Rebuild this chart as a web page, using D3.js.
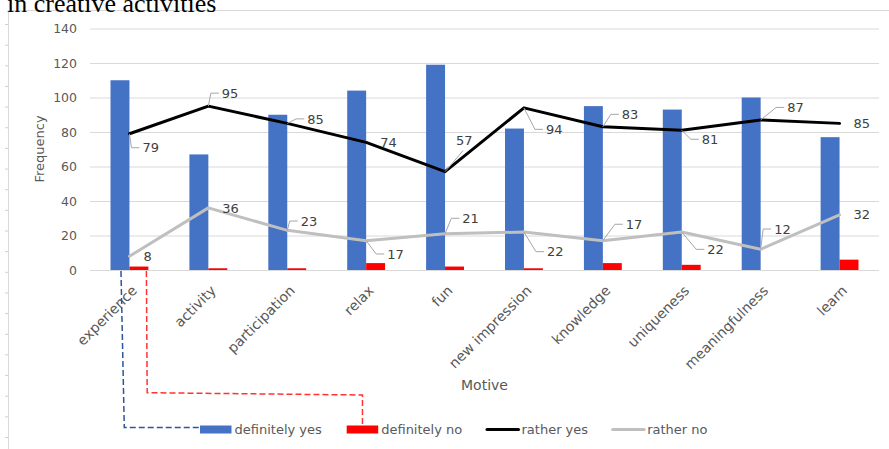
<!DOCTYPE html>
<html><head><meta charset="utf-8">
<script src="https://cdn.jsdelivr.net/npm/d3@7"></script>
<style>body{margin:0;background:#fff;} svg{display:block;}</style>
</head><body><svg id="chart" width="889" height="449"></svg>
<script>
// ---------- data ----------
const categories = ["experience","activity","participation","relax","fun","new impression","knowledge","uniqueness","meaningfulness","learn"];
const definitelyYes = [110,67,90,104,119,82,95,93,100,77];
const definitelyNo  = [2,1,1,4,2,1,4,3,0,6];
const ratherYes     = [79,95,85,74,57,94,83,81,87,85];
const ratherNo      = [8,36,23,17,21,22,17,22,12,32];
const yTicks = [0,20,40,60,80,100,120,140];
const seriesNames = ["definitely yes","definitely no","rather yes","rather no"];
const titleText = "in creative activities";
const xTitle = "Motive";
const yTitle = "Frequency";

// ---------- layout (label placement, not data) ----------
const labelOffsetYes = [[14,14,"hook"],[14.5,-13,"hook"],[21,-4.5,"hook"],[15,0,""],[12,-31,"diag"],[23,21.5,"hook"],[20,-12.5,"hook"],[21,9,"hook"],[27.5,-12.5,"hook"],[15,0,""]];
const labelOffsetNo  = [[15,0,""],[15,0,""],[14.5,-9.3,"hook"],[22,13.3,"hook"],[18.3,-15.5,"hook"],[24,19.6,"hook"],[24,-16.4,"hook"],[26.5,17.3,"hook"],[14.5,-20.3,"hook"],[15,0,""]];
const colors = {"definitely yes":"#4472C4","definitely no":"#FF0000","rather yes":"#000000","rather no":"#BFBFBF"};
const FONT = "'DejaVu Sans', sans-serif";
const TXT = "#595959";

const svg = d3.select("#chart");
const plotL = 90, plotR = 879, plotB = 270, plotT = 28.5;

const x0 = d3.scaleBand().domain(categories).range([plotL, plotR]).paddingInner(0.52).paddingOuter(0.26);
const x1 = d3.scaleBand().domain(["definitely yes","definitely no"]).range([0, x0.bandwidth()]);
const y = d3.scaleLinear().domain([0,140]).range([plotB, plotT]);
const cx = c => x0(c) + x0.bandwidth()/2;

// page frame (document border)
svg.append("line").attr("x1",8).attr("x2",889).attr("y1",10.5).attr("y2",10.5).attr("stroke","#D9D9D9");
svg.append("line").attr("x1",8.5).attr("x2",8.5).attr("y1",10).attr("y2",449).attr("stroke","#D9D9D9");
for (let k=0;k<21;k++){ svg.append("line").attr("x1",5).attr("x2",8).attr("y1",24.5+20.65*k).attr("y2",24.5+20.65*k).attr("stroke","#D0D0D0"); }

// title (cut off at top, as in the source)
svg.append("text").attr("x",7).attr("y",11.5).attr("font-family","'Liberation Serif', 'Times New Roman', serif")
  .attr("font-size",26).attr("fill","#000").text(titleText);

// y axis with gridlines
const yAxis = svg.append("g").attr("transform",`translate(${plotL},0)`)
  .call(d3.axisLeft(y).tickValues(yTicks).tickSize(-(plotR-plotL)).tickPadding(13));
yAxis.select(".domain").remove();
yAxis.selectAll("line").attr("stroke","#D9D9D9");
yAxis.selectAll("text").attr("font-family",FONT).attr("font-size",12.5).attr("fill",TXT);

// x axis labels
const xAxis = svg.append("g").attr("transform",`translate(0,${plotB})`)
  .call(d3.axisBottom(x0).tickSize(0));
xAxis.select(".domain").remove();
xAxis.selectAll("text").attr("font-family",FONT).attr("font-size",14).attr("fill",TXT)
  .attr("x",0).attr("y",0).attr("dy",0).style("text-anchor","end")
  .attr("transform","translate(8.5,21.5) rotate(-45)");

// bars
const barData = categories.map((c,i)=>({c, vals:[{s:"definitely yes",v:definitelyYes[i]},{s:"definitely no",v:definitelyNo[i]}]}));
svg.append("g").selectAll("g").data(barData).join("g")
  .attr("transform",d=>`translate(${x0(d.c)},0)`)
  .selectAll("rect").data(d=>d.vals).join("rect")
  .attr("x",d=>x1(d.s)).attr("width",x1.bandwidth())
  .attr("y",d=>y(d.v)).attr("height",d=>y(0)-y(d.v))
  .attr("fill",d=>colors[d.s]);

// lines
const line = d3.line().x((d,i)=>cx(categories[i])).y(d=>y(d));
[["rather yes",ratherYes],["rather no",ratherNo]].forEach(([name,vals])=>{
  svg.append("path").datum(vals).attr("d",line).attr("fill","none")
    .attr("stroke",colors[name]).attr("stroke-width",3).attr("stroke-linejoin","round").attr("stroke-linecap","round");
});

// data labels with leader lines
function labels(vals, offs){
  const g = svg.append("g");
  vals.forEach((v,i)=>{
    const px = cx(categories[i]), py = y(v);
    const [dx,dy,kind] = offs[i];
    const lx = px+dx, ly = py+dy;
    if (kind==="hook"){
      g.append("path").attr("d",`M${px},${py}L${lx-12},${ly}L${lx-4},${ly}`)
        .attr("fill","none").attr("stroke","#A6A6A6").attr("stroke-width",1);
    } else if (kind==="diag"){
      g.append("path").attr("d",`M${px},${py}L${lx+6},${ly+10}`)
        .attr("fill","none").attr("stroke","#A6A6A6").attr("stroke-width",1);
    }
    g.append("text").attr("x",lx-1).attr("y",ly).attr("dy","0.36em")
      .attr("font-family",FONT).attr("font-size",13).attr("fill","#404040").text(v);
  });
}
labels(ratherYes, labelOffsetYes);
labels(ratherNo, labelOffsetNo);

// axis titles
svg.append("text").attr("transform",`translate(44,149) rotate(-90)`).attr("text-anchor","middle")
  .attr("font-family",FONT).attr("font-size",13).attr("fill",TXT).text(yTitle);
svg.append("text").attr("x",(plotL+plotR)/2).attr("y",390).attr("text-anchor","middle")
  .attr("font-family",FONT).attr("font-size",14).attr("fill",TXT).text(xTitle);

// legend
const legendX = [200, 346.7, 487, 612.7];
const legY = 429.5, swW = 31.5;
seriesNames.forEach((s,i)=>{
  const lx = legendX[i];
  if (i<2) svg.append("rect").attr("x",lx).attr("y",legY-4).attr("width",swW).attr("height",8).attr("fill",colors[s]);
  else svg.append("line").attr("x1",lx).attr("x2",lx+swW).attr("y1",legY).attr("y2",legY)
        .attr("stroke",colors[s]).attr("stroke-width",3).attr("stroke-linecap","round");
  svg.append("text").attr("x",lx+swW+3).attr("y",legY).attr("dy","0.36em")
    .attr("font-family",FONT).attr("font-size",13).attr("fill",TXT).text(s);
});

// dashed connector annotations (bars of "experience" to legend swatches)
const blueX = x0(categories[0]) + x1("definitely yes") + x1.bandwidth()/2 + 1;
const redX  = x0(categories[0]) + x1("definitely no") + x1.bandwidth() - 2;
svg.append("path").attr("d",`M${blueX},${plotB+1}L${blueX+3.3},${legY-2}L${legendX[0]},${legY-2}`)
  .attr("fill","none").attr("stroke","#2F5597").attr("stroke-width",1.5).attr("stroke-dasharray","6,3");
const redMid = legendX[1]+swW/2;
svg.append("path").attr("d",`M${redX},${plotB+1}L${redX+0.8},${392.7}L${redMid},${395}L${redMid},${legY-4}`)
  .attr("fill","none").attr("stroke","#FF3333").attr("stroke-width",1.5).attr("stroke-dasharray","6,3");
</script></body></html>
